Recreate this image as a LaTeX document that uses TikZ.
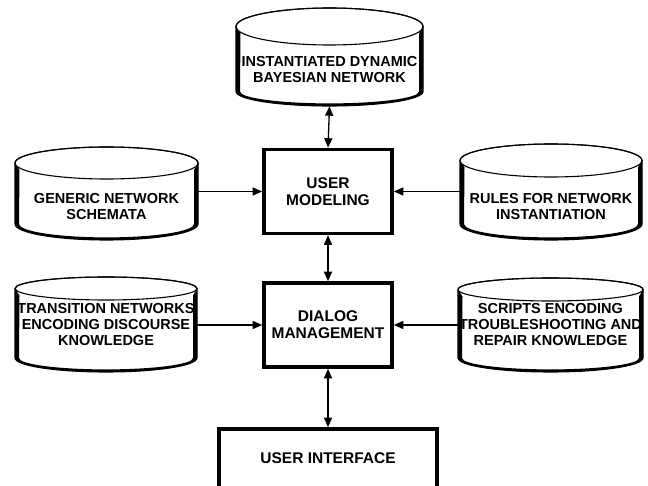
\documentclass[tikz,border=0pt]{standalone}
\usepackage{fontspec}
\setmainfont{Liberation Sans}
\usetikzlibrary{arrows.meta}

\tikzset{
  drumline/.style={line width=1.1pt},
  boxnode/.style={draw, line width=3.6pt, fill=white, align=center, inner sep=0pt,
    font=\fontsize{15.5}{16.8}\selectfont\bfseries},
  dbtext/.style={align=center, inner sep=0pt,
    font=\fontsize{14.5}{16}\selectfont\bfseries},
  tip/.tip={Triangle[length=9.5pt,width=8pt]},
  link/.style={line width=1.3pt, -tip},
  twoway/.style={line width=1.3pt, tip-tip},
}

% \drum{left}{right}{top}{bottom}{top radius}{bottom radius}{name}:
% a database drum with dark shaded sides
\newcommand\drum[7]{%
  \pgfmathsetmacro\dcx{(#1+#2)/2}%
  \pgfmathsetmacro\drx{(#2-#1)/2}%
  \pgfmathsetmacro\dryt{#5}%
  \pgfmathsetmacro\dryb{#6}%
  \pgfmathsetmacro\dyt{#3+\dryt}%
  \pgfmathsetmacro\dyb{#4-\dryb}%
  \draw[drumline, fill=white] (#1,\dyt) -- (#1,\dyb)
    arc[start angle=180, end angle=360, x radius=\drx pt, y radius=\dryb pt]
    -- (#2,\dyt)
    arc[start angle=0, end angle=180, x radius=\drx pt, y radius=\dryt pt] -- cycle;
  \draw[drumline] (\dcx,\dyt) ellipse[x radius=\drx pt, y radius=\dryt pt];
  \fill (#1,\dyt) -- (#1,\dyb)
    arc[start angle=180, end angle=360, x radius=\drx pt, y radius=\dryb pt]
    -- (#2,\dyt) -- (#2-4,\dyt+7) -- (#2-4,\dyb)
    arc[start angle=0, end angle=-180, x radius=\drx pt-4pt, y radius=\dryb pt-2.6pt]
    -- (#1+4.5,\dyt+7) -- cycle;
  \node[inner sep=0pt, minimum width={2*\drx pt}, minimum height={(#4-#3)*1pt}]
    (#7) at (\dcx,{(#3+#4)/2}) {};
}

\begin{document}
\begin{tikzpicture}[x=1pt, y=-1pt]
  \useasboundingbox (0,0) rectangle (648,486);

  % knowledge bases
  \drum{236}{423}{8}{106}{18.5}{14.5}{dbn}
  \node[dbtext] (dbn-t) at (329.5,70) {INSTANTIATED DYNAMIC\\BAYESIAN NETWORK};

  \drum{15}{198}{147}{240}{16}{16}{gen}
  \node[dbtext] (gen-t) at (106.5,207) {GENERIC NETWORK\\SCHEMATA};

  \drum{460}{642}{144}{240}{16.5}{16}{rul}
  \node[dbtext] (rul-t) at (551,207) {RULES FOR NETWORK\\INSTANTIATION};

  \drum{15}{197}{277}{372}{11.5}{14}{trn}
  \node[dbtext] (trn-t) at (106,324.5) {TRANSITION NETWORKS\\ENCODING DISCOURSE\\KNOWLEDGE};

  \drum{458}{643}{278}{372}{11.5}{14}{scr}
  \node[dbtext] (scr-t) at (550.5,324.5) {SCRIPTS ENCODING\\TROUBLESHOOTING AND\\REPAIR KNOWLEDGE};

  % processing modules
  \node[boxnode, minimum width=128pt, minimum height=84pt] (um) at (328,191.5) {USER\\MODELING};
  \node[boxnode, minimum width=128pt, minimum height=84pt] (dm) at (328,325) {DIALOG\\MANAGEMENT};
  \node[boxnode, minimum width=218pt, minimum height=64pt] (ui) at (328,461) {};
  \node[font=\fontsize{15.5}{16.8}\selectfont\bfseries] (ui-t) at (328,458) {USER INTERFACE};

  % data flow
  \draw[twoway] (dbn.south) -- (um.north);
  \draw[twoway] (um.south) -- (dm.north);
  \draw[twoway] (dm.south) -- (ui.north);
  \draw[link] (gen.east |- um.west) -- (um.west);
  \draw[link] (rul.west |- um.east) -- (um.east);
  \draw[link] (trn.east |- dm.west) -- (dm.west);
  \draw[link] (scr.west |- dm.east) -- (dm.east);
\end{tikzpicture}
\end{document}
